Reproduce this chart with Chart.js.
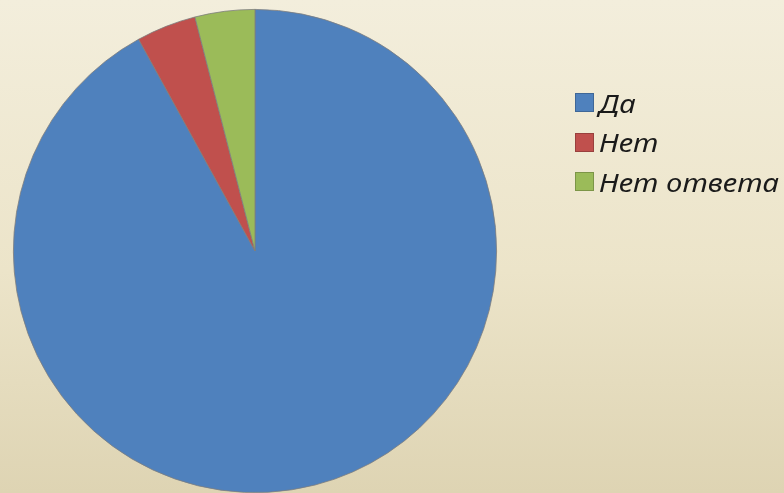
<!DOCTYPE html>
<html>
<head>
<meta charset="utf-8">
<script src="https://cdn.jsdelivr.net/npm/chart.js@4/dist/chart.umd.min.js"></script>
<style>
  html, body { margin: 0; padding: 0; }
  body {
    width: 784px; height: 493px; overflow: hidden; position: relative;
    background: linear-gradient(to bottom, #f3eedc 0%, #ece4c9 55%, #ded4b3 100%);
  }
  #wrap { position: absolute; left: 0; top: 0; width: 784px; height: 493px; }
  #legend { position: absolute; left: 575px; top: 83px; font-family: "Noto Sans", sans-serif; font-style: italic; font-size: 25px; color: #1a1a1a; }
  .item { height: 39.5px; display: flex; align-items: center; white-space: nowrap; }
  .box { width: 17px; height: 17px; margin-right: 5px; border: 1px solid rgba(0,0,0,0.2); flex: none; }
  .txt { display: inline-block; transform: scaleX(1.17); transform-origin: left center; }
</style>
</head>
<body>
<div id="wrap"><canvas id="pie"></canvas></div>
<div id="legend"></div>
<script>
const labels = ['Да', 'Нет', 'Нет ответа'];
const values = [92, 4, 4];
const colors = ['#4f81bd', '#c0504d', '#9bbb59'];

new Chart(document.getElementById('pie'), {
  type: 'pie',
  data: {
    labels: labels,
    datasets: [{
      data: values,
      backgroundColor: colors,
      borderColor: '#7d7d7d',
      borderWidth: 0.8
    }]
  },
  options: {
    responsive: true,
    maintainAspectRatio: false,
    animation: false,
    layout: { padding: { left: 13, right: 287, top: 9, bottom: 0 } },
    plugins: {
      legend: { display: false },
      tooltip: { enabled: false }
    }
  }
});

const legend = document.getElementById('legend');
labels.forEach((l, i) => {
  const row = document.createElement('div');
  row.className = 'item';
  row.innerHTML = `<span class="box" style="background:${colors[i]}"></span><span class="txt">${l}</span>`;
  legend.appendChild(row);
});
</script>
</body>
</html>
